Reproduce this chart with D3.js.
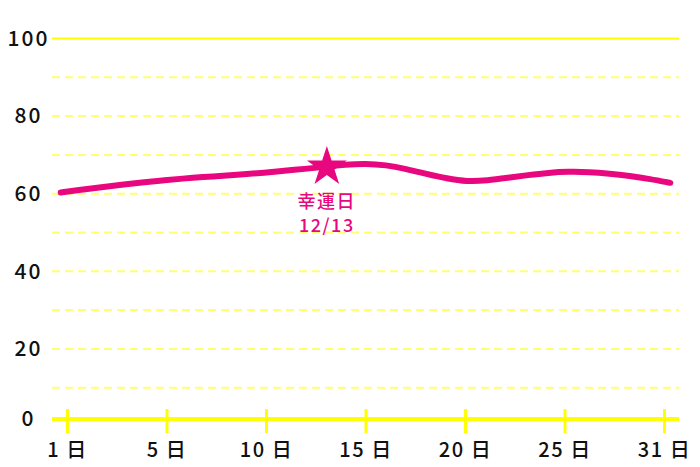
<!DOCTYPE html>
<html>
<head>
<meta charset="utf-8">
<script src="https://cdn.jsdelivr.net/npm/d3@7"></script>
<style>
  html, body { margin: 0; padding: 0; background: #fff; }
  svg { display: block; }
  text { font-family: "Noto Sans CJK JP", "Noto Sans", sans-serif; }
</style>
</head>
<body>
<svg id="chart" width="700" height="467"></svg>
<script>
// ---- data ----
const dayValues = [60.3, 61.0, 61.7, 62.3, 62.9, 63.4, 63.9, 64.3, 64.6, 65.0,
                   65.4, 65.9, 66.4, 66.9, 67.5, 67.8, 67.4, 66.4, 65.1, 63.9,
                   63.1, 63.4, 64.1, 64.8, 65.4, 65.7, 65.6, 65.2, 64.6, 63.8, 62.8];
const xTickLabels = ["1 日", "5 日", "10 日", "15 日", "20 日", "25 日", "31 日"];
const yTicks = [0, 20, 40, 60, 80, 100];
const gridValues = [10, 20, 30, 40, 50, 60, 70, 80, 90];
const luckyIndex = 13;
const luckyLabel = ["幸運日", "12/13"];

// ---- styles ----
const pink = "#e8077f";
const yellow = "#ffff00";
const gridYellow = "#ffff70";

const svg = d3.select("#chart");

const y = d3.scaleLinear().domain([0, 100]).range([426.5, 38.5]);
const xTick = d3.scalePoint().domain(xTickLabels).range([67, 664]);
const xLine = d3.scaleLinear().domain([0, dayValues.length - 1]).range([60.7, 670.3]);
const axisY = 419;
const x0 = 52, x1 = 679;

// dashed grid lines
svg.append("g").selectAll("line").data(gridValues).join("line")
  .attr("x1", x0).attr("x2", x1)
  .attr("y1", d => y(d)).attr("y2", d => y(d))
  .attr("stroke", gridYellow).attr("stroke-width", 2)
  .attr("stroke-dasharray", "8,5");

// top solid line
svg.append("line")
  .attr("x1", x0).attr("x2", x1)
  .attr("y1", y(100)).attr("y2", y(100))
  .attr("stroke", yellow).attr("stroke-width", 2);

// x axis
const xAxis = d3.axisBottom(xTick).tickSize(0);
const gx = svg.append("g").attr("transform", `translate(0,${axisY})`).call(xAxis);
gx.select(".domain").remove();
gx.append("line").attr("x1", x0).attr("x2", x1).attr("y1", 0).attr("y2", 0)
  .attr("stroke", yellow).attr("stroke-width", 4);
gx.selectAll(".tick").append("line")
  .attr("y1", -10).attr("y2", 14)
  .attr("stroke", yellow).attr("stroke-width", 3);
gx.selectAll(".tick text")
  .attr("y", 31).attr("dy", "0.35em")
  .attr("fill", "#111").attr("font-size", 20)
  .attr("font-family", "'Noto Sans CJK JP', sans-serif")
  .attr("font-weight", 500)
  .style("letter-spacing", "1.5px");

// y labels
svg.append("g").selectAll("text").data(yTicks).join("text")
  .attr("x", 28.5)
  .attr("y", d => d === 0 ? axisY : y(d))
  .attr("dy", "0.35em")
  .attr("text-anchor", "middle")
  .attr("font-size", 21)
  .attr("font-weight", 500)
  .attr("fill", "#111")
  .style("letter-spacing", "2px")
  .text(d => d);

// line
const line = d3.line()
  .x((d, i) => xLine(i))
  .y(d => y(d))
  .curve(d3.curveBasis);
svg.append("path").datum(dayValues)
  .attr("d", line)
  .attr("fill", "none")
  .attr("stroke", pink)
  .attr("stroke-width", 6)
  .attr("stroke-linecap", "round")
  .attr("stroke-linejoin", "round");

// star
const sx = xLine(luckyIndex) + 2, sy = y(dayValues[luckyIndex]);
svg.append("path")
  .attr("d", d3.symbol(d3.symbolStar).size(495)())
  .attr("transform", `translate(${sx},${sy})`)
  .attr("fill", pink);

svg.append("g").selectAll("text").data(luckyLabel).join("text")
  .attr("x", sx)
  .attr("y", (d, i) => sy + 35 + i * 23.5)
  .attr("dy", "0.35em")
  .attr("text-anchor", "middle")
  .attr("font-size", 18)
  .attr("font-weight", 500)
  .attr("fill", pink)
  .style("letter-spacing", "1.5px")
  .text(d => d);
</script>
</body>
</html>
